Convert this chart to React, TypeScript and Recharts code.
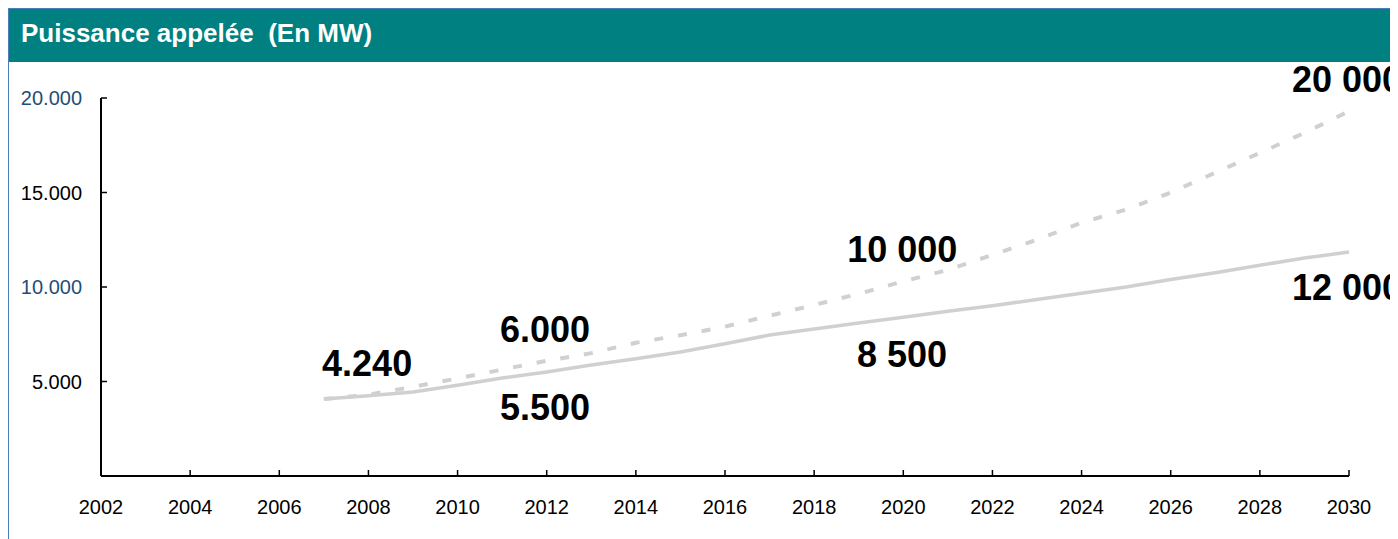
import { LineChart, Line, XAxis, YAxis, ReferenceDot } from "recharts";

const years = [
  2007, 2008, 2009, 2010, 2011, 2012, 2013, 2014, 2015, 2016, 2017, 2018,
  2019, 2020, 2021, 2022, 2023, 2024, 2025, 2026, 2027, 2028, 2029, 2030,
];
// scénario bas (trait plein)
const scenarioBas = [
  4070, 4250, 4440, 4800, 5180, 5500, 5870, 6200, 6560, 7000, 7460, 7780,
  8090, 8400, 8720, 9010, 9340, 9670, 10000, 10400, 10750, 11150, 11530, 11850,
];
// scénario haut (pointillés)
const scenarioHaut = [
  4070, 4300, 4720, 5160, 5630, 6100, 6500, 7050, 7450, 7900, 8480, 9050,
  9640, 10300, 10900, 11700, 12500, 13400, 14100, 15000, 16050, 17100, 18150, 19300,
];
const xTicks = [2002, 2004, 2006, 2008, 2010, 2012, 2014, 2016, 2018, 2020, 2022, 2024, 2026, 2028, 2030];
const yTicks = [5000, 10000, 15000, 20000];
const yTickLabels = ["5.000", "10.000", "15.000", "20.000"];
// annotations: texte + point d'ancrage (coin bas-gauche) en unités des données
const annotTexts = ["4.240", "6.000", "5.500", "10 000", "8 500", "20 000", "12 000"];
const annotYears = [2006.96, 2010.95, 2010.95, 2018.74, 2018.96, 2028.72, 2028.72];
const annotValues = [5290, 7090, 2960, 11320, 5770, 20320, 9310];

const data = years.map((year, i) => ({ year, bas: scenarioBas[i], haut: scenarioHaut[i] }));
const annotations = annotTexts.map((text, i) => ({ text, x: annotYears[i], y: annotValues[i] }));

const FONT = '"Liberation Sans", Arial, sans-serif';

function XTick({ x, y, payload }: any) {
  return (
    <g>
      <line x1={x} y1={y} x2={x} y2={y - 6} stroke="#000" strokeWidth={1.5} />
      <text x={x} y={y + 38} textAnchor="middle" fontFamily={FONT} fontSize={20} fill="#000">
        {payload.value}
      </text>
    </g>
  );
}

function YTick({ x, y, payload }: any) {
  const i = yTicks.indexOf(payload.value);
  const blue = payload.value === 10000 || payload.value === 20000;
  return (
    <g>
      <line x1={x} y1={y} x2={x + 6} y2={y} stroke="#000" strokeWidth={1.5} />
      <text x={x - 19} y={y} dy="0.35em" textAnchor="end" fontFamily={FONT} fontSize={20} fill={blue ? "#1f4e79" : "#000"}>
        {yTickLabels[i]}
      </text>
    </g>
  );
}

export default function App() {
  return (
    <div
      style={{
        position: "relative",
        width: 1391,
        height: 531,
        boxSizing: "border-box",
        borderLeft: "2px solid #4a7ebb",
        borderTop: "1px solid #4a7ebb",
        marginLeft: -1,
        overflow: "hidden",
        background: "#fff",
      }}
    >
      <div style={{ position: "absolute", left: 0, top: 0, width: 1400, height: 53, background: "#008080", zIndex: 2 }}>
        <div
          style={{
            position: "absolute",
            left: 12,
            top: 9,
            lineHeight: "30px",
            fontFamily: FONT,
            fontWeight: "bold",
            fontSize: 26,
            color: "#fff",
            whiteSpace: "pre",
          }}
        >
          {"Puissance appelée  (En MW)"}
        </div>
      </div>
      <div style={{ position: "absolute", left: -1, top: -1 }}>
        <LineChart width={1390} height={531} data={data} margin={{ top: 90, right: 49, bottom: 23, left: 0 }} style={{ overflow: "visible" }}>
          <XAxis
            dataKey="year"
            type="number"
            domain={[2002, 2030]}
            ticks={xTicks}
            interval={0}
            height={40}
            tickSize={0}
            tickMargin={0}
            tickLine={false}
            axisLine={{ stroke: "#000", strokeWidth: 2 }}
            tick={<XTick />}
          />
          <YAxis
            type="number"
            domain={[0, 20000]}
            ticks={yTicks}
            interval={0}
            width={93}
            tickSize={0}
            tickMargin={0}
            tickLine={false}
            axisLine={{ stroke: "#000", strokeWidth: 2 }}
            tick={<YTick />}
          />
          <Line
            type="linear"
            dataKey="bas"
            stroke="#d0d0d0"
            strokeWidth={3.5}
            dot={false}
            activeDot={false}
            isAnimationActive={false}
          />
          <Line
            type="linear"
            dataKey="haut"
            stroke="#d0d0d0"
            strokeWidth={4}
            strokeDasharray="9 15"
            dot={false}
            activeDot={false}
            isAnimationActive={false}
          />
          {annotations.map((a) => (
            <ReferenceDot
              key={a.text}
              x={a.x}
              y={a.y}
              r={0}
              ifOverflow="visible"
              shape={(p: any) => (
                <text x={p.cx} y={p.cy} fontFamily={FONT} fontWeight="bold" fontSize={36} fill="#000">
                  {a.text}
                </text>
              )}
            />
          ))}
        </LineChart>
      </div>
    </div>
  );
}
